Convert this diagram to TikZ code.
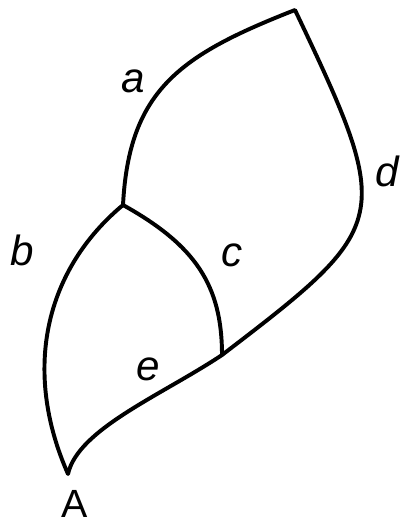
\documentclass[tikz,border=0pt]{standalone}
\usepackage{fontspec}
\setmainfont{Liberation Sans}
\usepackage{tikz}
\tikzset{
  edge/.style={line width=2.8pt,draw=black,line join=round,line cap=round},
  lbl/.style={font=\fontsize{30}{30}\selectfont\itshape,inner sep=0pt},
  vlbl/.style={font=\fontsize{28}{28}\selectfont,inner sep=0pt}
}
\begin{document}
\begin{tikzpicture}[x=0.025cm,y=-0.025cm]
\useasboundingbox (0,0) rectangle (402,527);
% vertices
\coordinate (T) at (295,10);
\coordinate (J) at (123,205);
\coordinate (K) at (222,355);
\coordinate (A) at (68,474);
% edges a,d / b,e / c
\draw[edge] (J) .. controls +(6,-115) and +(-115,45) .. (T)
  .. controls +(100,210) and +(170,-130) .. (K);
\draw[edge] (J) .. controls +(-78,65) and +(-46,-104) .. (A)
  .. controls +(10,-45) and +(-60,40) .. (K);
\draw[edge] (J) .. controls +(72,40) and +(0,-70) .. (K);
% labels
\node[lbl] (la) at (133,81) {a};
\node[lbl] (lb) at (22,250) {b};
\node[lbl] (lc) at (232,255) {c};
\node[lbl] (ld) at (387,171) {d};
\node[lbl] (le) at (148,369) {e};
\node[vlbl] (lA) at (75,504) {A};
\end{tikzpicture}
\end{document}
